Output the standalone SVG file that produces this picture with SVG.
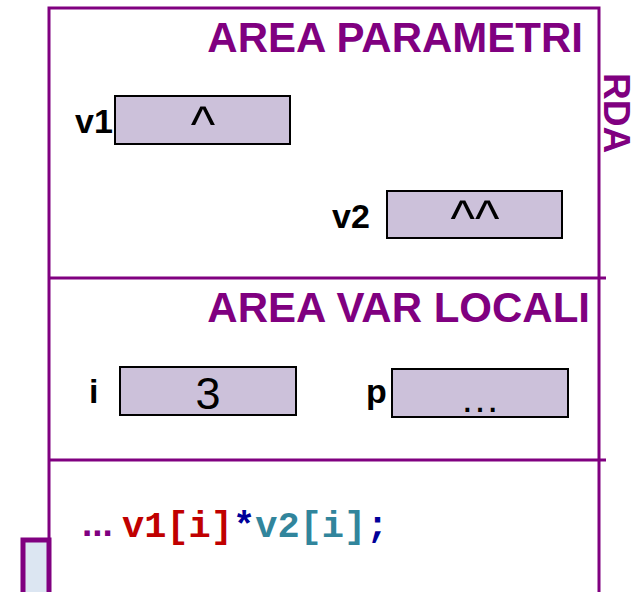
<svg xmlns="http://www.w3.org/2000/svg" width="638" height="592" viewBox="0 0 638 592">
<style>
.frame{stroke:#800080;stroke-width:3;fill:none}
.title{font-family:"Liberation Sans",Arial,sans-serif;font-weight:bold;font-size:42px;fill:#800080}
.lbl{font-family:"Liberation Sans",Arial,sans-serif;font-weight:bold;font-size:34px;fill:#000}
.cell{fill:#ccc1da;stroke:#000;stroke-width:2}
.val{font-family:"Liberation Sans",Arial,sans-serif;fill:#000;text-anchor:middle}
.code{font-family:"Liberation Mono","Courier New",monospace;font-weight:bold;font-size:37px}
</style>
<rect width="638" height="592" fill="#fff"/>
<g id="frame">
<path class="frame" d="M49,592 V8 H599 V592"/>
<path class="frame" d="M49,278 H606 M49,460 H606"/>
<text class="title" transform="translate(604,73) rotate(90)" style="font-size:37px">RDA</text>
</g>
<g id="area-parametri">
<text class="title" x="583" y="52" text-anchor="end">AREA PARAMETRI</text>
</g>
<g id="v1">
<text class="lbl" x="75" y="133">v1</text>
<rect class="cell" x="115" y="96" width="175" height="48"/>
<text class="val" x="203" y="142" font-size="52">^</text>
</g>
<g id="v2">
<text class="lbl" x="332" y="228">v2</text>
<rect class="cell" x="387" y="191" width="175" height="47"/>
<text class="val" x="475" y="236" font-size="52">^^</text>
</g>
<g id="area-var-locali">
<text class="title" x="590" y="322" text-anchor="end">AREA VAR LOCALI</text>
</g>
<g id="i">
<text class="lbl" x="89" y="403">i</text>
<rect class="cell" x="120" y="367" width="176" height="48"/>
<text class="val" x="208" y="409" font-size="45">3</text>
</g>
<g id="p">
<text class="lbl" x="366" y="403">p</text>
<rect class="cell" x="392" y="369" width="176" height="48"/>
<text class="val" x="480" y="412" font-size="40">…</text>
</g>
<g id="code">
<text x="82" y="536" style="font-family:'Liberation Sans',Arial,sans-serif;font-weight:bold;font-size:37px;fill:#800080">...</text>
<text class="code" x="122" y="537"><tspan fill="#c00000">v1[i]</tspan><tspan fill="#000099">*</tspan><tspan fill="#31859c">v2[i]</tspan><tspan fill="#000099">;</tspan></text>
</g>
<g id="marker">
<rect x="23" y="540" width="26" height="60" fill="#dce6f2" stroke="#800080" stroke-width="5"/>
</g>
</svg>
